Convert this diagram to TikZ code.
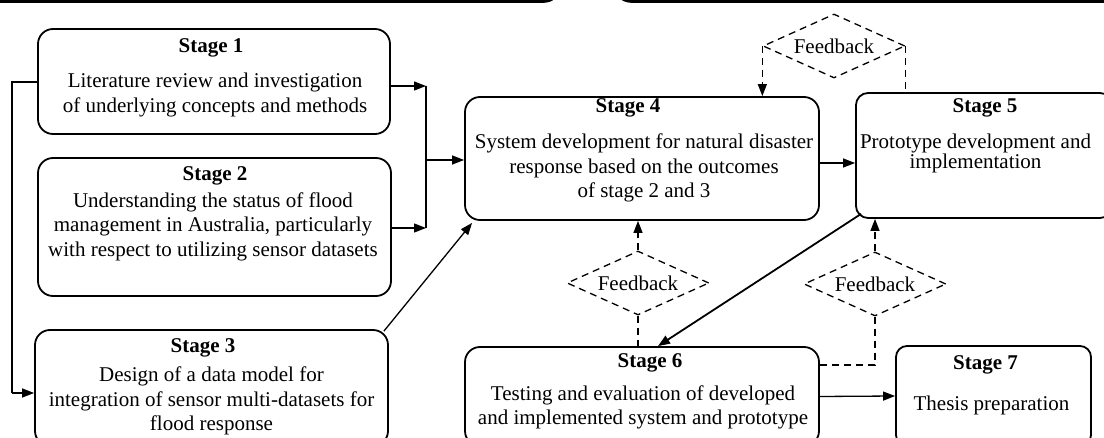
\documentclass[tikz,border=0pt]{standalone}
\usepackage{fontspec}
\setmainfont{Liberation Serif}
\usetikzlibrary{arrows.meta,shapes.geometric,calc}
\begin{document}
\begin{tikzpicture}[x=1pt,y=-1pt,
  box/.style={draw,line width=1.8pt,rounded corners=15pt,inner sep=0pt},
  ttl/.style={font=\fontsize{21}{24}\selectfont\bfseries,inner sep=0pt},
  body/.style={font=\fontsize{21}{24.5}\selectfont,align=center,inner sep=0pt},
  fb/.style={draw,dash pattern=on 7pt off 5pt,line width=1.3pt,diamond,aspect=2.2,minimum width=142pt,minimum height=64pt,inner sep=0pt,font=\fontsize{21}{24}\selectfont},
  conn/.style={line width=1.3pt},
  arr/.style={conn,-{Triangle[length=12pt,width=9pt]}},
  dconn/.style={conn,dash pattern=on 7pt off 5pt},
  darr/.style={dconn,-{Triangle[length=12pt,width=9pt]}},
]
\useasboundingbox (0,0) rectangle (1104,438);
\clip (0,0) rectangle (1104,438);

% cropped edges at the top
\draw[line width=3pt] (-5,1.5) -- (540,1.5) .. controls (550,1.5) and (555,-1) .. (557,-8);
\draw[line width=3pt] (1110,1.5) -- (635,1.5) .. controls (625,1.5) and (620,-1) .. (618,-8);

% boxes
\node[box,minimum width=352pt,minimum height=105pt] (s1) at (214,81.5) {};
\node[box,minimum width=353pt,minimum height=138pt] (s2) at (214.5,227) {};
\node[box,minimum width=353pt,minimum height=116pt] (s3) at (211.5,388) {};
\node[box,minimum width=354pt,minimum height=123pt] (s4) at (642,158.5) {};
\node[box,rounded corners=12pt,minimum width=256pt,minimum height=125pt] (s5) at (984,155.5) {};
\node[box,minimum width=354pt,minimum height=99pt] (s6) at (642,396.5) {};
\node[box,rounded corners=11pt,minimum width=195pt,minimum height=100pt] (s7) at (993.5,396) {};

% titles
\node[ttl] (h1) at (211,48) {Stage 1};
\node[ttl] (h2) at (215,176) {Stage 2};
\node[ttl] (h3) at (203,348) {Stage 3};
\node[ttl] (h4) at (628,108) {Stage 4};
\node[ttl] (h5) at (985,108) {Stage 5};
\node[ttl] (h6) at (650,363) {Stage 6};
\node[ttl] (h7) at (985.5,365) {Stage 7};

% bodies
\node[body] (b1) at (215,95) {Literature review and investigation\\of underlying concepts and methods};
\node[body] (b2) at (213,226.5) {Understanding the status of flood\\management in Australia, particularly\\with respect to utilizing sensor datasets};
\node[body] (b3) at (211.5,401) {Design of a data model for\\integration of sensor multi-datasets for\\flood response};
\node[body] (b4) at (644,168) {System development for natural disaster\\response based on the outcomes\\of stage 2 and 3};
\node[body,font=\fontsize{21}{20}\selectfont] (b5) at (975.5,153) {Prototype development and\\implementation};
\node[body] (b6) at (643,407.5) {Testing and evaluation of developed\\and implemented system and prototype};
\node[body] (b7) at (991.5,405) {Thesis preparation};

% feedback diamonds
\node[fb] (d1) at (834,46) {Feedback};
\node[fb] (d2) at (638,283) {Feedback};
\node[fb] (d3) at (875,284) {Feedback};

% junction coordinates
\coordinate (j1) at (426,86);
\coordinate (j2) at (426,228);
\coordinate (j3) at (426,160);
\coordinate (k1) at (12,82);
\coordinate (k3) at (12,393);
\coordinate (f6) at (875,365);

% solid connectors
\draw[arr] (s1.east|-j1) -- (j1);
\draw[arr] (s2.east|-j2) -- (j2);
\draw[conn] (j1) -- (j2);
\draw[arr] (j3) -- (s4.west|-j3);
\draw[conn] (s1.west|-k1) -- (k1) -- (k3);
\draw[arr] (k3) -- (s3.west|-k3);
\draw[arr] ($(s3.north east)+(-5,2)$) -- ($(s4.south west)+(8,2)$);
\draw[arr] ($(s4.east)+(0,4.5)$) -- ($(s5.west)+(0,7.5)$);
\draw[arr,line width=1.8pt] ($(s5.south west)+(6,-5)$) -- ($(s6.north)+(16,0)$);
\draw[arr] (s6.east) -- (s7.west);

% dashed connectors
\draw[darr] (d1.west) -- (d1.west|-s4.north);
\draw[dconn] (d1.east) -- (d1.east|-s5.north);
\draw[darr] (d2.north) -- (d2.north|-s4.south);
\draw[dconn] (d2.south) -- (d2.south|-s6.north);
\draw[darr] (d3.north) -- (d3.north|-s5.south);
\draw[dconn] (d3.south) -- (f6) -- (s6.east|-f6);
\end{tikzpicture}
\end{document}
